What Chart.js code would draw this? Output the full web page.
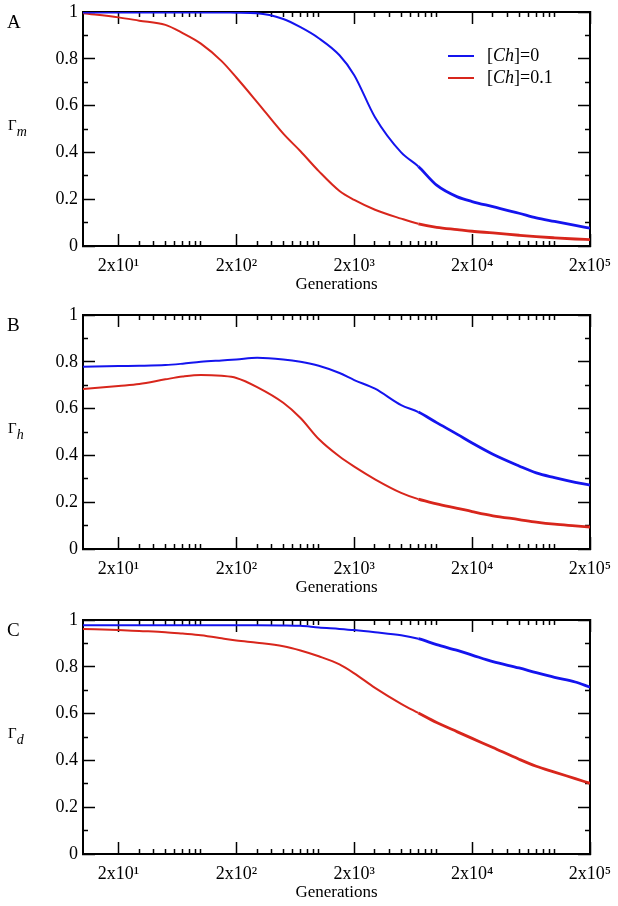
<!DOCTYPE html>
<html><head><meta charset="utf-8">
<script src="https://cdn.jsdelivr.net/npm/chart.js@4.4.0/dist/chart.umd.min.js"></script>
<style>
html,body{margin:0;padding:0;background:#fff;}
body{width:618px;height:906px;position:relative;overflow:hidden;}
canvas{position:absolute;left:0;}
</style></head><body>
<canvas id="cA" width="618" height="296" style="top:0px"></canvas>
<canvas id="cB" width="618" height="309" style="top:290px"></canvas>
<canvas id="cC" width="618" height="309" style="top:595px"></canvas>
<script>
// ---------- data ----------
const generations = [10,20,30,50,70,100,150,200,300,500,700,1000,1500,2000,3000,5000,7000,10000,15000,20000,30000,50000,70000,100000,150000,200000];
const gammaM_ch0  = [0.998,0.998,0.998,0.998,0.998,0.998,0.998,0.997,0.995,0.970,0.935,0.888,0.815,0.730,0.550,0.400,0.340,0.260,0.210,0.190,0.168,0.140,0.120,0.105,0.088,0.076];
const gammaM_ch01 = [0.995,0.977,0.963,0.945,0.910,0.865,0.790,0.720,0.615,0.480,0.405,0.320,0.235,0.197,0.155,0.117,0.095,0.080,0.070,0.063,0.056,0.046,0.040,0.035,0.030,0.027];
const gammaH_ch0  = [0.779,0.782,0.783,0.786,0.792,0.800,0.806,0.810,0.817,0.810,0.800,0.783,0.752,0.722,0.685,0.615,0.585,0.540,0.490,0.453,0.405,0.355,0.325,0.305,0.285,0.273];
const gammaH_ch01 = [0.684,0.697,0.705,0.725,0.737,0.744,0.740,0.731,0.692,0.625,0.560,0.470,0.395,0.352,0.298,0.240,0.213,0.193,0.174,0.160,0.142,0.126,0.115,0.106,0.099,0.094];
const gammaD_ch0  = [0.978,0.978,0.978,0.978,0.978,0.978,0.978,0.978,0.978,0.977,0.975,0.968,0.962,0.957,0.948,0.935,0.920,0.895,0.870,0.850,0.822,0.795,0.775,0.755,0.735,0.713];
const gammaD_ch01 = [0.962,0.957,0.953,0.948,0.942,0.935,0.922,0.912,0.903,0.888,0.870,0.845,0.810,0.772,0.710,0.642,0.603,0.562,0.522,0.494,0.455,0.405,0.375,0.350,0.322,0.302];

const seriesLabels = ['[Ch]=0', '[Ch]=0.1'];
const xMajorTicks = [20, 200, 2000, 20000, 200000];
const xTickLabels = ['2x10\u00B9', '2x10\u00B2', '2x10\u00B3', '2x10\u2074', '2x10\u2075'];
const yTicks = [0,0.1,0.2,0.3,0.4,0.5,0.6,0.7,0.8,0.9,1];
const yMajorTicks = [0,0.2,0.4,0.6,0.8,1];
const yTickLabels = ['0','0.2','0.4','0.6','0.8','1'];
const xTitle = 'Generations';

// all x tick positions: majors 2x10^n and minors 3..10 x10^n
const xTicks = [];
for (let e = 1; e <= 5; e++) {
  xTicks.push(2 * Math.pow(10, e));
  if (e < 5) for (let m = 3; m <= 10; m++) xTicks.push(m * Math.pow(10, e));
}

const BLUE = '#1414ee';
const RED = '#d8261c';
const SERIF = '"Liberation Serif", "Times New Roman", serif';

const panels = [
  {canvas:'cA', letter:'A', sub:'m', padTop:12, blue:gammaM_ch0, red:gammaM_ch01, legend:true},
  {canvas:'cB', letter:'B', sub:'h', padTop:25, blue:gammaH_ch0, red:gammaH_ch01, legend:false},
  {canvas:'cC', letter:'C', sub:'d', padTop:25, blue:gammaD_ch0, red:gammaD_ch01, legend:false},
];

// ---------- text plugin (panel letter, y title, legend) ----------
const annot = {
  id: 'annot',
  afterDraw(chart, args, opts) {
    const {ctx, chartArea: a} = chart;
    ctx.save();
    ctx.fillStyle = '#000';
    ctx.textAlign = 'left';
    ctx.textBaseline = 'middle';
    ctx.font = '19px ' + SERIF;
    ctx.fillText(opts.letter, 7, a.top + 11);
    const cy = (a.top + a.bottom) / 2 - 3;
    ctx.font = '15px ' + SERIF;
    ctx.fillText('\u0393', 8, cy);
    const gw = ctx.measureText('\u0393').width;
    ctx.font = 'italic 14px ' + SERIF;
    ctx.fillText(opts.sub, 8 + gw, cy + 6);
    if (opts.legend) {
      chart.data.datasets.forEach((ds, i) => {
        const y = a.top + 44 + i * 22;
        ctx.strokeStyle = ds.borderColor;
        ctx.lineWidth = 2;
        ctx.beginPath(); ctx.moveTo(448, y); ctx.lineTo(474, y); ctx.stroke();
        const lbl = ds.label;
        const i1 = lbl.indexOf('['), i2 = lbl.indexOf(']');
        const parts = [[lbl.slice(0, i1 + 1), ''], [lbl.slice(i1 + 1, i2), 'italic '], [lbl.slice(i2), '']];
        let x = 487;
        parts.forEach(([t, st]) => {
          ctx.font = st + '18px ' + SERIF;
          ctx.fillText(t, x, y);
          x += ctx.measureText(t).width;
        });
      });
    }
    ctx.restore();
  }
};

function tickDash(pos) {
  return c => (c.tick && c.tick.major) ? [] : ((pos === 'top' || pos === 'left') ? [0, 7, 6, 100] : [6, 100]);
}

function noPad(s) { s.paddingLeft = 0; s.paddingRight = 0; s.paddingTop = 0; s.paddingBottom = 0; }

function xScale(pos, showLabels) {
  return {
    type: 'logarithmic', position: pos, min: 10, max: 200000,
    afterBuildTicks: s => { s.ticks = xTicks.map(v => ({value: v, major: xMajorTicks.includes(v)})); },
    afterFit: s => { s.height = pos === 'bottom' ? 50 : 0; noPad(s); },
    border: {display: true, color: '#000', width: 2},
    grid: {drawOnChartArea: false, drawTicks: true, tickLength: -12, tickWidth: 1.5, tickColor: '#000', tickBorderDash: tickDash(pos)},
    ticks: {display: showLabels, autoSkip: false, maxRotation: 0, minRotation: 0, padding: 21, color: '#000',
      font: {family: SERIF, size: 18},
      callback: v => { const i = xMajorTicks.indexOf(v); return i >= 0 ? xTickLabels[i] : ''; }},
    title: {display: showLabels, text: xTitle, color: '#000', font: {family: SERIF, size: 17}, padding: {top: 0, bottom: 1}}
  };
}

function yScale(pos, showLabels) {
  return {
    type: 'linear', position: pos, min: 0, max: 1,
    afterBuildTicks: s => { s.ticks = yTicks.map(v => ({value: v, major: yMajorTicks.some(m => Math.abs(m - v) < 1e-9)})); },
    afterFit: s => { s.width = pos === 'left' ? 83 : 0; noPad(s); },
    border: {display: true, color: '#000', width: 2},
    grid: {drawOnChartArea: false, drawTicks: true, tickLength: -12, tickWidth: 1.5, tickColor: '#000', tickBorderDash: tickDash(pos)},
    ticks: {display: showLabels, autoSkip: false, padding: 17, color: '#000',
      font: {family: SERIF, size: 18},
      callback: v => { const i = yMajorTicks.findIndex(m => Math.abs(m - v) < 1e-9); return i >= 0 ? yTickLabels[i] : ''; }}
  };
}

function ds(label, color, values) {
  return {
    label, borderColor: color, backgroundColor: color,
    data: generations.map((g, i) => ({x: g, y: values[i]})),
    borderWidth: 2, pointRadius: 0, fill: false, cubicInterpolationMode: 'monotone',
    segment: {borderWidth: c => c.p0.parsed.x >= 7000 ? 2.8 : 2},
    xAxisID: 'x', yAxisID: 'y'
  };
}

panels.forEach(p => {
  new Chart(document.getElementById(p.canvas), {
    type: 'line',
    data: {datasets: [ds(seriesLabels[0], BLUE, p.blue), ds(seriesLabels[1], RED, p.red)]},
    options: {
      responsive: false, animation: false, parsing: true,
      layout: {padding: {top: p.padTop, left: 0, right: 28, bottom: 0}},
      plugins: {legend: {display: false}, tooltip: {enabled: false}, annot: {letter: p.letter, sub: p.sub, legend: p.legend}},
      scales: {
        x: xScale('bottom', true),
        x2: xScale('top', false),
        y: yScale('left', true),
        y2: yScale('right', false)
      }
    },
    plugins: [annot]
  });
});
</script>
</body></html>
